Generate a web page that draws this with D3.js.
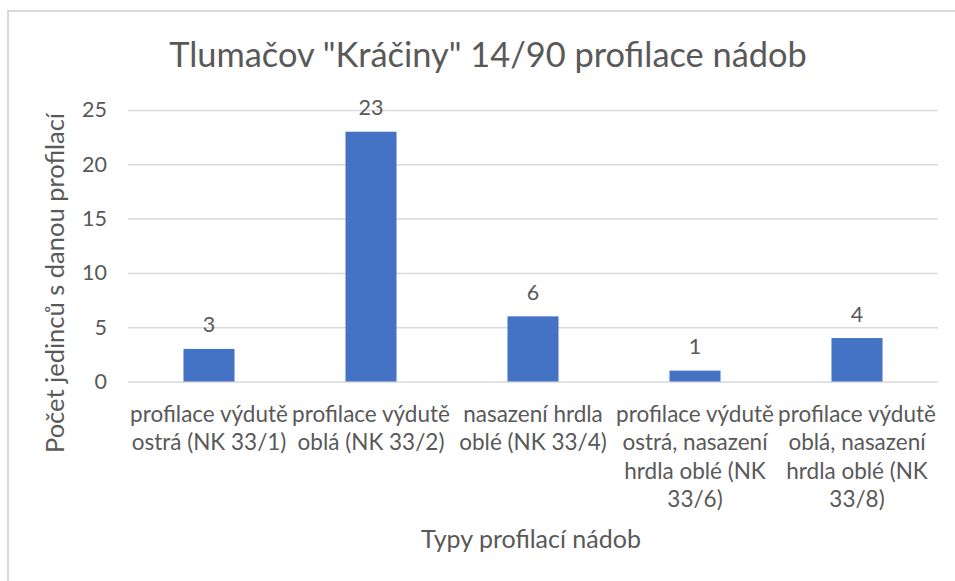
<!DOCTYPE html>
<html lang="cs">
<head>
    <meta charset="UTF-8">
    <title>Tlumačov profilace</title>
    <script src="https://d3js.org/d3.v7.min.js"></script>
    <style>
        body { margin: 0; background: #fff; }
        text { font-family: Lato, "Open Sans", sans-serif; fill: #595959; }
    </style>
</head>
<body>
<script type="text/javascript">
    var svgWidth = 955;
    var svgHeight = 581;

    // chart data
    var chartTitle = 'Tlumačov "Kráčiny" 14/90 profilace nádob';
    var xTitle = "Typy profilací nádob";
    var yTitle = "Počet jedinců s danou profilací";
    var categories = [
        "profilace výdutě\nostrá (NK 33/1)",
        "profilace výdutě\noblá (NK 33/2)",
        "nasazení hrdla\noblé (NK 33/4)",
        "profilace výdutě\nostrá, nasazení\nhrdla oblé (NK\n33/6)",
        "profilace výdutě\noblá, nasazení\nhrdla oblé (NK\n33/8)"
    ];
    var counts = [3, 23, 6, 1, 4];
    var yTicks = [0, 5, 10, 15, 20, 25];

    var svg = d3.select("body").append("svg")
        .attr("width", svgWidth)
        .attr("height", svgHeight);

    // chart frame
    svg.append("rect")
        .attr("x", 8)
        .attr("y", 11)
        .attr("width", svgWidth + 20)
        .attr("height", svgHeight + 20)
        .style("fill", "none")
        .style("stroke", "#d9d9d9")
        .style("stroke-width", 2);

    var xScale = d3.scaleBand()
        .domain(categories)
        .range([128, 938])
        .paddingInner(0.685)
        .paddingOuter(0.3425);

    var yScale = d3.scaleLinear()
        .domain([0, 25])
        .range([381.5, 110]);

    // gridlines
    var yGrid = d3.axisLeft(yScale)
        .tickValues(yTicks)
        .tickSize(-(938 - 128))
        .tickFormat("");
    var grid = svg.append("g")
        .attr("transform", "translate(128, 0)")
        .call(yGrid);
    grid.select(".domain").remove();
    grid.selectAll("line").style("stroke", "#d9d9d9").style("stroke-width", 1.5);

    // y tick labels
    var yAxis = d3.axisLeft(yScale)
        .tickValues(yTicks)
        .tickSize(0)
        .tickPadding(21);
    var yg = svg.append("g")
        .attr("transform", "translate(128, 0)")
        .call(yAxis);
    yg.select(".domain").remove();
    yg.selectAll("text")
        .style("font-family", "Lato, sans-serif")
        .style("font-size", "21.5px")
        .style("fill", "#595959");

    // bars
    svg.selectAll("rect.bar")
        .data(counts)
        .enter()
        .append("rect")
        .attr("class", "bar")
        .attr("x", function (d, i) { return xScale(categories[i]); })
        .attr("y", function (d) { return yScale(d); })
        .attr("width", xScale.bandwidth())
        .attr("height", function (d) { return yScale(0) - yScale(d); })
        .style("fill", "#4472c4");

    // value labels
    svg.selectAll("text.value")
        .data(counts)
        .enter()
        .append("text")
        .attr("class", "value")
        .attr("x", function (d, i) { return xScale(categories[i]) + xScale.bandwidth() / 2; })
        .attr("y", function (d) { return yScale(d) - 16.5; })
        .attr("text-anchor", "middle")
        .style("font-size", "21.5px")
        .text(function (d) { return d; });

    // category labels
    var catLabels = svg.selectAll("text.cat")
        .data(categories)
        .enter()
        .append("text")
        .attr("class", "cat")
        .attr("text-anchor", "middle")
        .attr("transform", function (d) {
            return "translate(" + (xScale(d) + xScale.bandwidth() / 2) + ", 422)";
        })
        .style("font-size", "22.5px");
    catLabels.selectAll("tspan")
        .data(function (d) { return d.split("\n"); })
        .enter()
        .append("tspan")
        .attr("x", 0)
        .attr("y", function (d, i) { return i * 28.3; })
        .text(function (d) { return d; });

    // titles
    svg.append("text")
        .attr("x", 488)
        .attr("y", 67)
        .attr("text-anchor", "middle")
        .style("font-size", "34.4px")
        .text(chartTitle);

    svg.append("text")
        .attr("x", 531)
        .attr("y", 548)
        .attr("text-anchor", "middle")
        .style("font-size", "25px")
        .text(xTitle);

    svg.append("text")
        .attr("transform", "translate(64, 283) rotate(-90)")
        .attr("text-anchor", "middle")
        .style("font-size", "25.5px")
        .text(yTitle);
</script>
</body>
</html>
